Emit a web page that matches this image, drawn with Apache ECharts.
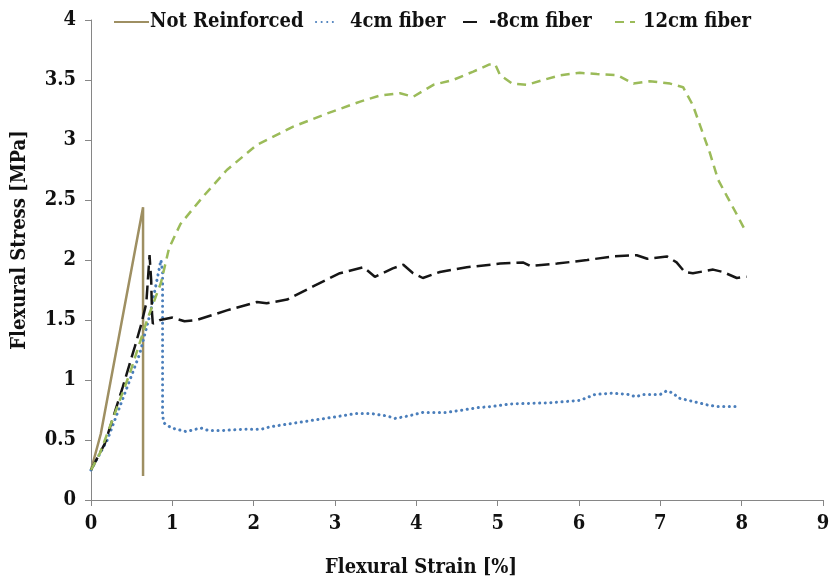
<!DOCTYPE html>
<html>
<head>
<meta charset="utf-8">
<script src="https://cdn.jsdelivr.net/npm/echarts@6/dist/echarts.min.js"></script>
<style>
  html, body { margin: 0; padding: 0; background: #fff; }
  #chart { width: 829px; height: 579px; }
</style>
</head>
<body>
<div id="chart"></div>
<script>
// strain [%], stress [MPa]
const notReinforced = [[0, 0.25], [0.12, 0.55], [0.64, 2.44], [0.64, 0.2]];

const fiber4 = [
  [0, 0.25], [0.2, 0.5], [0.4, 0.86], [0.6, 1.22], [0.73, 1.56], [0.81, 1.83], [0.86, 2.0],
  [0.88, 1.9], [0.88, 0.7], [0.9, 0.64], [0.99, 0.6], [1.17, 0.57], [1.35, 0.6], [1.44, 0.58],
  [1.63, 0.58], [1.91, 0.59], [2.1, 0.59], [2.2, 0.61], [2.49, 0.64], [2.78, 0.67], [2.98, 0.69],
  [3.25, 0.72], [3.45, 0.72], [3.64, 0.7], [3.74, 0.68], [3.9, 0.7], [4.08, 0.73], [4.37, 0.73],
  [4.57, 0.75], [4.76, 0.77], [4.94, 0.78], [5.15, 0.8], [5.64, 0.81], [6.01, 0.83], [6.2, 0.88],
  [6.41, 0.89], [6.6, 0.88], [6.7, 0.86], [6.79, 0.88], [7.0, 0.88], [7.08, 0.91], [7.16, 0.89],
  [7.22, 0.85], [7.41, 0.82], [7.59, 0.79], [7.7, 0.78], [7.98, 0.78]
];

const fiber8 = [
  [0, 0.25], [0.17, 0.47], [0.39, 0.94], [0.54, 1.28], [0.62, 1.47], [0.68, 1.64], [0.72, 2.04],
  [0.74, 1.83], [0.75, 1.56], [0.76, 1.47], [0.85, 1.5], [1.0, 1.52], [1.15, 1.49], [1.3, 1.5],
  [1.67, 1.58], [2.04, 1.65], [2.16, 1.64], [2.41, 1.67], [2.73, 1.78], [3.06, 1.89], [3.35, 1.94],
  [3.49, 1.86], [3.71, 1.93], [3.84, 1.96], [3.96, 1.89], [4.08, 1.85], [4.29, 1.9], [4.62, 1.94],
  [5.03, 1.97], [5.31, 1.98], [5.4, 1.95], [5.73, 1.97], [6.1, 2.0], [6.42, 2.03], [6.71, 2.04],
  [6.84, 2.01], [7.08, 2.03], [7.2, 1.98], [7.3, 1.9], [7.4, 1.89], [7.65, 1.92], [7.77, 1.9],
  [7.94, 1.85], [8.06, 1.86]
];

const fiber12 = [
  [0, 0.25], [0.11, 0.39], [0.48, 1.06], [0.69, 1.5], [0.86, 1.81], [0.96, 2.1], [1.1, 2.3],
  [1.38, 2.53], [1.67, 2.75], [2.04, 2.96], [2.48, 3.11], [2.9, 3.22], [3.31, 3.32], [3.55, 3.37],
  [3.8, 3.39], [3.96, 3.36], [4.21, 3.46], [4.45, 3.5], [4.7, 3.57], [4.9, 3.63], [4.97, 3.63],
  [5.03, 3.54], [5.18, 3.47], [5.36, 3.46], [5.56, 3.5], [5.77, 3.54], [6.01, 3.56], [6.22, 3.55],
  [6.47, 3.54], [6.67, 3.47], [6.87, 3.49], [7.12, 3.47], [7.28, 3.44], [7.4, 3.29], [7.51, 3.08],
  [7.61, 2.89], [7.71, 2.67], [7.82, 2.53], [7.94, 2.38], [8.04, 2.25]
];

const seriesNames = ['Not Reinforced', '4cm fiber', '-8cm fiber', '12cm fiber'];

const FONT = 'DejaVu Serif Condensed';
const axisGray = '#868686';
const textStyleBase = { fontFamily: FONT, fontWeight: 'bold', fontSize: 20, color: '#111' };

/** 单个图例，按参考图位置放置（隐藏折线图例里的圆点） */
function legendAt(name, left, iconW, textGap) {
  return {
    data: [name],
    left: left,
    top: 12,
    padding: 0,
    itemWidth: iconW,
    itemHeight: 14,
    itemStyle: { opacity: 0 },
    textStyle: Object.assign({}, textStyleBase, { padding: [0, 0, 0, textGap] })
  };
}

const chart = echarts.init(document.getElementById('chart'));

const option = {
  animation: false,
  backgroundColor: '#fff',
  grid: { left: 91, right: 6, top: 20, bottom: 79, outerBoundsMode: 'none', containLabel: false },
  legend: [
    legendAt(seriesNames[0], 113, 35, -4),
    legendAt(seriesNames[1], 315, 20, 9),
    legendAt(seriesNames[2], 462, 20, 1),
    legendAt(seriesNames[3], 614, 20, 3)
  ],
  xAxis: {
    type: 'value',
    min: 0, max: 9, interval: 1,
    name: 'Flexural Strain [%]',
    nameLocation: 'middle',
    nameGap: 58,
    nameTextStyle: Object.assign({}, textStyleBase, { padding: [0, 72, 0, 0] }),
    axisLine: { lineStyle: { color: axisGray, width: 1 } },
    axisTick: { show: true, length: 6, lineStyle: { color: axisGray } },
    axisLabel: Object.assign({}, textStyleBase, { margin: 14 }),
    splitLine: { show: false }
  },
  yAxis: {
    type: 'value',
    min: 0, max: 4, interval: 0.5,
    name: 'Flexural Stress [MPa]',
    nameLocation: 'middle',
    nameRotate: 90,
    nameGap: 61,
    nameTextStyle: Object.assign({}, textStyleBase, { padding: [0, 0, 0, 40] }),
    axisLine: { show: true, lineStyle: { color: axisGray, width: 1 } },
    axisTick: { show: true, length: 6, lineStyle: { color: axisGray } },
    axisLabel: Object.assign({}, textStyleBase, { margin: 15 }),
    splitLine: { show: false }
  },
  series: [
    {
      name: seriesNames[0], type: 'line', data: notReinforced, symbol: 'none',
      lineStyle: { color: '#9e8f62', width: 2.5 }, itemStyle: { color: '#9e8f62' }
    },
    {
      name: seriesNames[1], type: 'line', data: fiber4, symbol: 'none',
      lineStyle: { color: '#4a7ebb', width: 3, type: [0.1, 5.5], cap: 'round' }, itemStyle: { color: '#4a7ebb' }
    },
    {
      name: seriesNames[2], type: 'line', data: fiber8, symbol: 'none',
      lineStyle: { color: '#161616', width: 2.5, type: [14, 6] }, itemStyle: { color: '#161616' }
    },
    {
      name: seriesNames[3], type: 'line', data: fiber12, symbol: 'none',
      lineStyle: { color: '#9bbb59', width: 2.5, type: [9, 6] }, itemStyle: { color: '#9bbb59' }
    }
  ]
};

chart.setOption(option);
</script>
</body>
</html>
